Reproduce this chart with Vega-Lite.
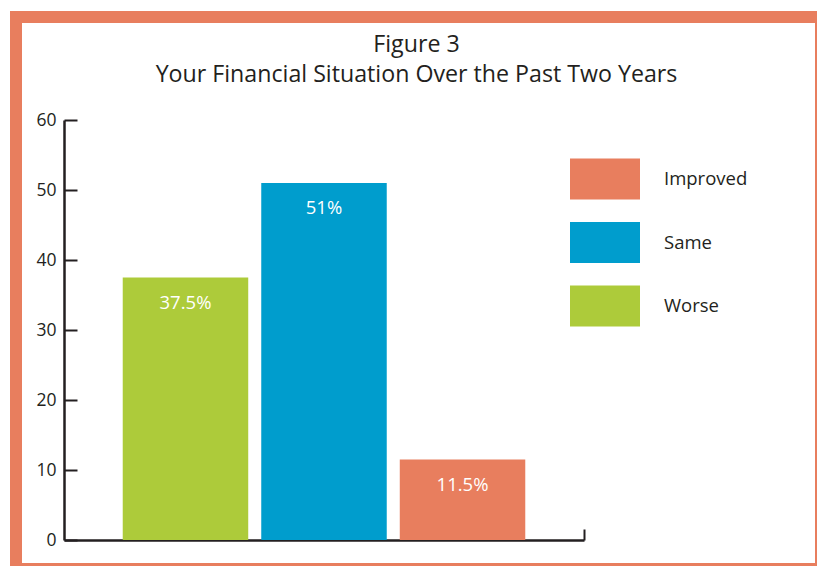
{
  "$schema": "https://vega.github.io/schema/vega-lite/v6.json",
  "autosize": "none",
  "width": 805,
  "height": 552,
  "padding": {"left": 16, "top": 17, "right": -4, "bottom": -3},
  "background": "white",
  "config": {
    "view": {"stroke": "#E87E5E", "strokeWidth": 12, "fill": "white"},
    "font": "Open Sans"
  },
  "title": {
    "text": ["Figure 3", "Your Financial Situation Over the Past Two Years"],
    "fontSize": 23.2,
    "fontWeight": "normal",
    "font": "Open Sans",
    "color": "#231F20",
    "lineHeight": 30,
    "anchor": "middle",
    "frame": "group",
    "offset": -70,
    "dx": -2
  },
  "data": {
    "values": [
      {"status": "Worse", "value": 37.5, "label": "37.5%"},
      {"status": "Same", "value": 51, "label": "51%"},
      {"status": "Improved", "value": 11.5, "label": "11.5%"}
    ]
  },
  "layer": [
    {
      "encoding": {
        "x": {
          "field": "status",
          "type": "nominal",
          "sort": ["Worse", "Same", "Improved"],
          "scale": {"range": [48, 568], "paddingInner": 0.094, "paddingOuter": 0.424},
          "axis": {
            "title": null,
            "labels": false,
            "ticks": false,
            "domainColor": "#231F20",
            "domainWidth": 2.5,
            "offset": -29
          }
        },
        "y": {
          "field": "value",
          "type": "quantitative",
          "scale": {"domain": [0, 60], "range": [523, 103], "nice": false, "zero": true},
          "axis": {
            "title": null,
            "values": [0, 10, 20, 30, 40, 50, 60],
            "grid": false,
            "domainColor": "#231F20",
            "domainWidth": 2.5,
            "tickColor": "#231F20",
            "tickWidth": 2,
            "tickSize": -13,
            "labelFontSize": 17.5,
            "labelFont": "Open Sans",
            "labelColor": "#231F20",
            "labelPadding": 21,
            "offset": -48
          }
        }
      },
      "layer": [
        {
          "mark": {"type": "bar"},
          "encoding": {
            "color": {
              "field": "status",
              "type": "nominal",
              "scale": {
                "domain": ["Improved", "Same", "Worse"],
                "range": ["#E87E5E", "#009DCD", "#ADCB3A"]
              },
              "legend": {
                "title": null,
                "orient": "none",
                "legendX": 554,
                "legendY": 127,
                "symbolType": "M-1,-0.5857L1,-0.5857L1,0.5857L-1,0.5857Z",
                "symbolSize": 4900,
                "symbolStrokeWidth": 0,
                "symbolOpacity": 1,
                "labelFontSize": 18.5,
                "labelFont": "Open Sans",
                "labelColor": "#231F20",
                "labelOffset": 24,
                "rowPadding": 7.5
              }
            }
          }
        },
        {
          "mark": {
            "type": "text",
            "color": "white",
            "fontSize": 18.5,
            "font": "Open Sans",
            "baseline": "middle",
            "align": "center",
            "dy": 25
          },
          "encoding": {"text": {"field": "label"}}
        }
      ]
    },
    {
      "mark": {"type": "rule", "opacity": 0},
      "encoding": {
        "y": {
          "datum": 0,
          "type": "quantitative",
          "scale": {"domain": [0, 1], "range": [523, 512], "nice": false, "zero": false},
          "axis": {
            "orient": "right",
            "title": null,
            "labels": false,
            "ticks": false,
            "grid": false,
            "domainColor": "#231F20",
            "domainWidth": 2,
            "offset": -237
          }
        }
      }
    }
  ],
  "resolve": {"scale": {"y": "independent"}, "axis": {"y": "independent"}}
}
